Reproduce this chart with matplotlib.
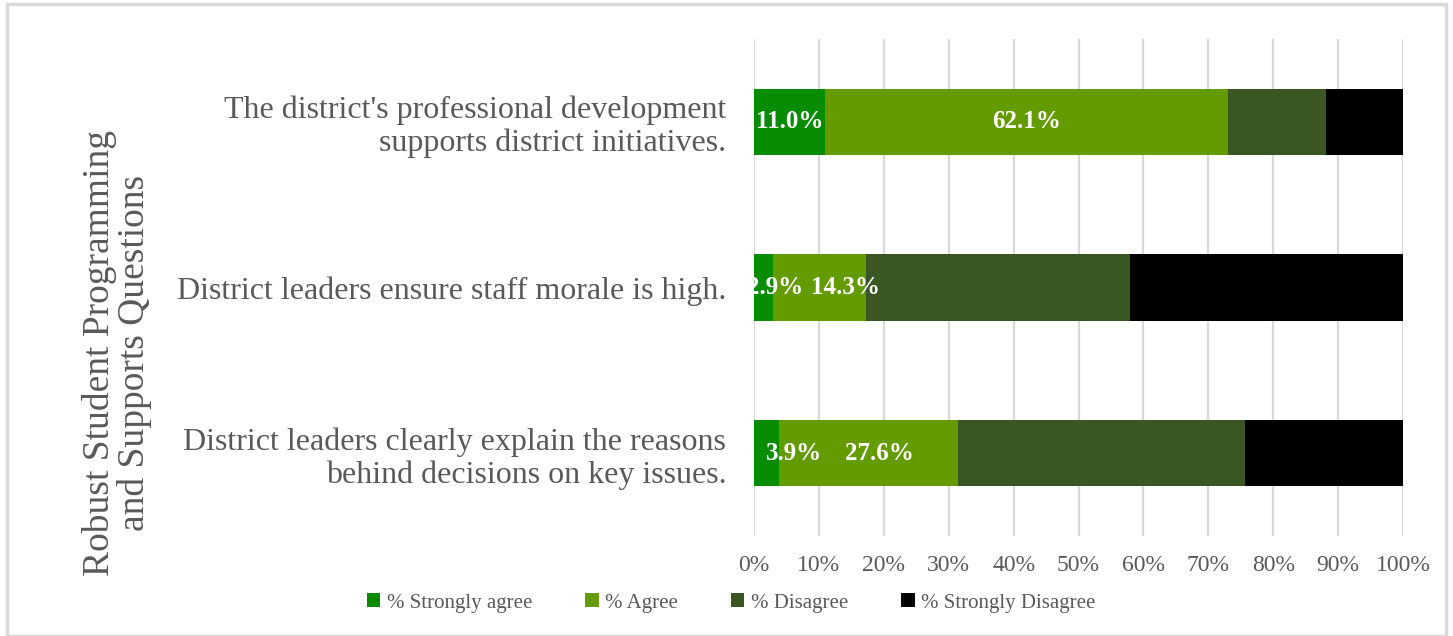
import matplotlib
matplotlib.use("Agg")
import matplotlib.pyplot as plt
from matplotlib.patches import Rectangle
import numpy as np

categories = [
    "District leaders clearly explain the reasons\nbehind decisions on key issues.",
    "District leaders ensure staff morale is high.",
    "The district's professional development\nsupports district initiatives.",
]
series_names = ["% Strongly agree", "% Agree", "% Disagree", "% Strongly Disagree"]
strongly_agree = [3.9, 2.9, 11.0]
agree = [27.6, 14.3, 62.1]
disagree = [44.1, 40.7, 15.0]
strongly_disagree = [24.4, 42.1, 11.9]
colors = ["#078C03", "#649B00", "#3A5723", "#000000"]
xticks = [0, 10, 20, 30, 40, 50, 60, 70, 80, 90, 100]
# manual nudges of data labels (in % units), as in the original
sa_label_shift = [4.2, 1.8, 0.0]
ag_label_shift = [1.7, 4.0, 0.0]

plt.rcParams['font.family'] = ['Liberation Serif', 'DejaVu Serif']

fig = plt.figure(figsize=(14.53, 6.36), dpi=100)
ax = fig.add_axes([754/1453, 1-536/636, (1403-754)/1453, (536-39)/636])

y = np.arange(len(categories))
series = [strongly_agree, agree, disagree, strongly_disagree]
left = np.zeros(len(categories))
for vals, c, name in zip(series, colors, series_names):
    ax.barh(y, vals, left=left, height=0.4, color=c, label=name, zorder=3)
    left = left + np.array(vals)

for i in range(len(categories)):
    ax.text(strongly_agree[i]/2 + sa_label_shift[i], y[i], f"{strongly_agree[i]:.1f}%",
            ha='center', va='center', color='white', fontsize=18, fontweight='bold', zorder=4)
    ax.text(strongly_agree[i] + agree[i]/2 + ag_label_shift[i], y[i], f"{agree[i]:.1f}%",
            ha='center', va='center', color='white', fontsize=18, fontweight='bold', zorder=4)

ax.set_xlim(0, 100)
ax.set_ylim(-0.5, len(categories) - 0.5)
ax.set_xticks(xticks)
ax.set_xticklabels([f"{t}%" for t in xticks], fontsize=17, color='#595959')
ax.set_yticks(y)
ax.set_yticklabels(categories, fontsize=23, color='#595959', linespacing=1.15)
ax.tick_params(axis='both', length=0)
ax.tick_params(axis='x', pad=14)
ax.tick_params(axis='y', pad=20)
ax.grid(axis='x', color='#D9D9D9', linewidth=1.6, zorder=0)
for s in ax.spines.values():
    s.set_visible(False)

fig.text(117/1453, 1-353/636, "Robust Student Programming\nand Supports Questions",
         rotation=90, ha='center', va='center', fontsize=27, color='#595959', linespacing=0.98)

handles, labels = ax.get_legend_handles_labels()
leg = fig.legend(handles, labels, loc='center', bbox_to_anchor=(731/1453, 1-603/636), ncol=4,
                 frameon=False, fontsize=15, labelcolor='#595959', handlelength=0.65,
                 handleheight=0.65, handletextpad=0.3, columnspacing=2.55)

fig.patches.append(Rectangle((7/1453, 0), (1446-7)/1453, 1-4/636, transform=fig.transFigure,
                             fill=False, edgecolor='#D9D9D9', linewidth=2.5))

fig.savefig("out.png", dpi=100, facecolor='white')
